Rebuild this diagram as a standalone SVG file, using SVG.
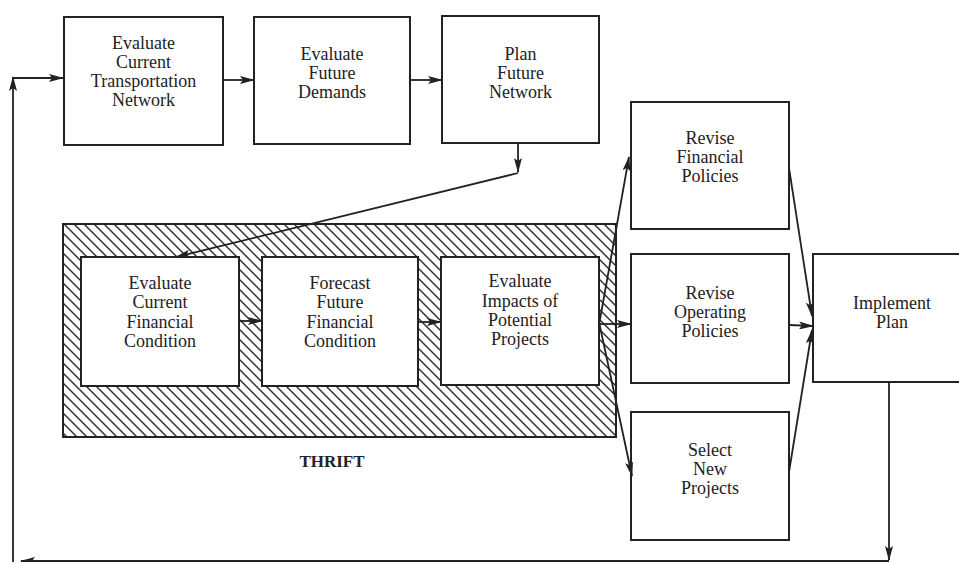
<svg xmlns="http://www.w3.org/2000/svg" width="959" height="562" viewBox="0 0 959 562">
<style>
  .box{fill:#fff;stroke:#222;stroke-width:2}
  .lbl{font-family:"Liberation Serif","Times New Roman",serif;font-size:18px;fill:#222;text-anchor:middle}
  .ttl{font-family:"Liberation Serif","Times New Roman",serif;font-size:17px;font-weight:bold;fill:#222;text-anchor:middle}
  .con{fill:none;stroke:#222;stroke-width:1.8;marker-end:url(#ah)}
</style>
<defs>
  <marker id="ah" viewBox="0 0 15 8" refX="14" refY="4" markerUnits="userSpaceOnUse" markerWidth="15" markerHeight="8" orient="auto">
    <path d="M0,0 L15,4 L0,8 L3,4 z" fill="#222"/>
  </marker>
  <pattern id="hatch" patternUnits="userSpaceOnUse" width="10" height="10">
    <path d="M0,0 L10,10 M-2,8 L2,12 M8,-2 L12,2" stroke="#333" stroke-width="1.5"/>
  </pattern>
</defs>
<rect width="959" height="562" fill="#fff"/>

<g id="thrift">
  <rect x="63" y="224" width="553" height="213" fill="url(#hatch)" stroke="#222" stroke-width="2"/>
  <text class="ttl" x="332" y="467">THRIFT</text>
</g>

<g id="n1">
  <rect class="box" x="64" y="17" width="159" height="128"/>
  <text class="lbl" x="143.5" y="49">Evaluate</text>
  <text class="lbl" x="143.5" y="68">Current</text>
  <text class="lbl" x="143.5" y="87">Transportation</text>
  <text class="lbl" x="143.5" y="106">Network</text>
</g>
<g id="n2">
  <rect class="box" x="254" y="17" width="156" height="127"/>
  <text class="lbl" x="332" y="60">Evaluate</text>
  <text class="lbl" x="332" y="79">Future</text>
  <text class="lbl" x="332" y="98">Demands</text>
</g>
<g id="n3">
  <rect class="box" x="442" y="16" width="157" height="127"/>
  <text class="lbl" x="520.5" y="60">Plan</text>
  <text class="lbl" x="520.5" y="79">Future</text>
  <text class="lbl" x="520.5" y="98">Network</text>
</g>
<g id="n4">
  <rect class="box" x="81" y="257" width="158" height="129"/>
  <text class="lbl" x="160" y="289">Evaluate</text>
  <text class="lbl" x="160" y="308">Current</text>
  <text class="lbl" x="160" y="328">Financial</text>
  <text class="lbl" x="160" y="347">Condition</text>
</g>
<g id="n5">
  <rect class="box" x="262" y="257" width="156" height="129"/>
  <text class="lbl" x="340" y="289">Forecast</text>
  <text class="lbl" x="340" y="308">Future</text>
  <text class="lbl" x="340" y="328">Financial</text>
  <text class="lbl" x="340" y="347">Condition</text>
</g>
<g id="n6">
  <rect class="box" x="441" y="257" width="158" height="128"/>
  <text class="lbl" x="520" y="287">Evaluate</text>
  <text class="lbl" x="520" y="307">Impacts of</text>
  <text class="lbl" x="520" y="326">Potential</text>
  <text class="lbl" x="520" y="345">Projects</text>
</g>
<g id="n7">
  <rect class="box" x="631" y="102" width="158" height="127"/>
  <text class="lbl" x="710" y="144">Revise</text>
  <text class="lbl" x="710" y="163">Financial</text>
  <text class="lbl" x="710" y="182">Policies</text>
</g>
<g id="n8">
  <rect class="box" x="631" y="254" width="158" height="129"/>
  <text class="lbl" x="710" y="299">Revise</text>
  <text class="lbl" x="710" y="318">Operating</text>
  <text class="lbl" x="710" y="337">Policies</text>
</g>
<g id="n9">
  <rect class="box" x="631" y="412" width="158" height="128"/>
  <text class="lbl" x="710" y="456">Select</text>
  <text class="lbl" x="710" y="475">New</text>
  <text class="lbl" x="710" y="494">Projects</text>
</g>
<g id="n10">
  <rect class="box" x="813" y="254" width="160" height="128"/>
  <text class="lbl" x="892" y="309">Implement</text>
  <text class="lbl" x="892" y="328">Plan</text>
</g>

<g id="connectors">
  <line class="con" x1="223" y1="80" x2="254" y2="80"/>
  <line class="con" x1="410" y1="80" x2="442" y2="80"/>
  <line class="con" x1="518" y1="143" x2="518" y2="172"/>
  <line class="con" x1="518" y1="173" x2="176" y2="257"/>
  <line class="con" x1="239" y1="321" x2="262" y2="321"/>
  <line class="con" x1="418" y1="322" x2="441" y2="322"/>
  <line class="con" x1="599" y1="325" x2="629" y2="157"/>
  <line class="con" x1="599" y1="324" x2="631" y2="324"/>
  <line class="con" x1="599" y1="322" x2="632" y2="476"/>
  <line class="con" x1="789" y1="168" x2="812" y2="316"/>
  <line class="con" x1="789" y1="325" x2="813" y2="326"/>
  <line class="con" x1="789" y1="472" x2="812" y2="330"/>
  <line class="con" x1="889" y1="382" x2="889" y2="560"/>
  <line class="con" x1="889" y1="561" x2="21" y2="561"/>
  <line class="con" x1="13" y1="562" x2="13" y2="77"/>
  <line class="con" x1="13" y1="78" x2="63" y2="78"/>
</g>
</svg>
